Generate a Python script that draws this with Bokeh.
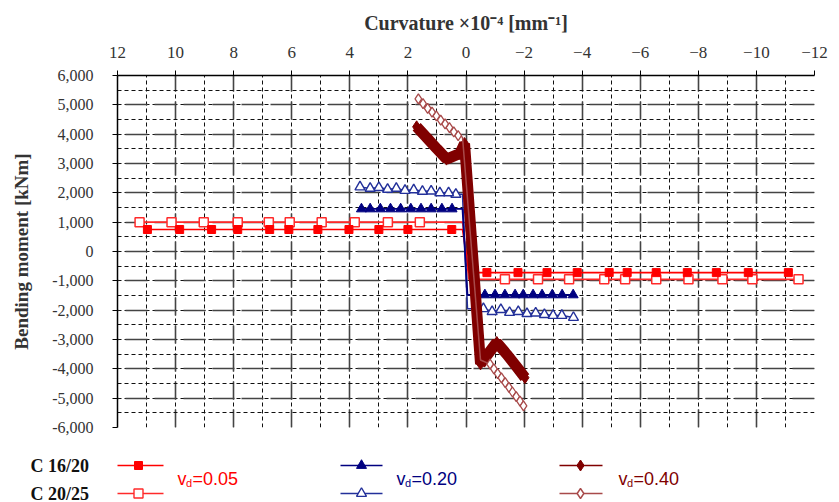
from bokeh.plotting import figure
from bokeh.layouts import column
from bokeh.models import Range1d, FixedTicker, NumeralTickFormatter
from bokeh.embed import file_html
from bokeh.resources import INLINE
from bokeh.core.properties import value

# ---------------- data ----------------
x_tick_values = [12, 10, 8, 6, 4, 2, 0, -2, -4, -6, -8, -10, -12]
x_minor_values = [12, 11, 10, 9, 8, 7, 6, 5, 4, 3, 2, 1, 0, -1, -2, -3, -4, -5, -6,
                  -7, -8, -9, -10, -11, -12]
y_tick_values = [6000, 5000, 4000, 3000, 2000, 1000, 0, -1000, -2000, -3000, -4000,
                 -5000, -6000]
y_minor_values = [6000, 5500, 5000, 4500, 4000, 3500, 3000, 2500, 2000, 1500, 1000, 500,
                  0, -500, -1000, -1500, -2000, -2500, -3000, -3500, -4000, -4500,
                  -5000, -5500, -6000]

# C 16/20, vd = 0.05 (filled squares)
rf_pos_x = [0.49, 2.0, 3.0, 4.03, 5.1, 6.1, 6.76, 7.86, 8.76, 9.86, 10.97]
rf_pos_y = [750, 750, 750, 750, 750, 750, 750, 750, 750, 750, 750]
rf_neg_x = [-0.72, -1.79, -2.79, -3.83, -4.93, -5.55, -6.55, -7.62, -8.62, -9.72, -11.1]
rf_neg_y = [-720, -720, -720, -720, -720, -720, -720, -720, -720, -720, -720]
rf_yield_x = [0.12, -0.1]
rf_yield_y = [750, -720]

# C 20/25, vd = 0.05 (open squares)
ro_pos_x = [1.59, 2.69, 3.83, 4.97, 6.07, 6.79, 7.86, 9.03, 10.14, 11.24]
ro_pos_y = [1000, 1000, 1000, 1000, 1000, 1000, 1000, 1000, 1000, 1000]
ro_neg_x = [-1.34, -2.48, -3.55, -4.76, -5.48, -6.55, -7.66, -8.83, -9.86, -11.45]
ro_neg_y = [-950, -950, -950, -950, -950, -950, -950, -950, -950, -950]
ro_yield_x = [0.12, -0.1]
ro_yield_y = [1000, -950]

# C 16/20, vd = 0.20 (filled triangles)
bf_pos_x = [0.48, 0.83, 1.2, 1.55, 1.9, 2.25, 2.6, 2.95, 3.3, 3.6]
bf_pos_y = [1450, 1450, 1450, 1450, 1450, 1450, 1450, 1450, 1450, 1450]
bf_neg_x = [-0.65, -1.0, -1.34, -1.69, -1.97, -2.31, -2.62, -2.97, -3.31, -3.69]
bf_neg_y = [-1480, -1480, -1480, -1480, -1480, -1480, -1480, -1480, -1480, -1480]
bf_yield_x = [0.12, -0.05]
bf_yield_y = [1450, -1480]

# C 20/25, vd = 0.20 (open triangles)
bo_pos_x = [0.35, 0.6, 0.9, 1.2, 1.5, 1.8, 2.1, 2.4, 2.7, 3.0, 3.3, 3.65]
bo_pos_y = [1950, 2000, 2000, 2060, 2050, 2100, 2080, 2150, 2120, 2180, 2150, 2200]
bo_neg_x = [-0.6, -0.9, -1.2, -1.5, -1.8, -2.1, -2.4, -2.7, -3.0, -3.3, -3.7]
bo_neg_y = [-1950, -2050, -1980, -2080, -2050, -2120, -2100, -2150, -2180, -2180, -2250]
bo_yield_x = [0.12, -0.05]
bo_yield_y = [1950, -1950]

# C 16/20, vd = 0.40 (filled diamonds)
df_pos_x = [0.05, 0.21, 0.67, 1.0, 1.35, 1.70]
df_pos_y = [3680, 3340, 3150, 3500, 3880, 4250]
df_neg_x = [-0.5, -1.06, -1.4, -1.72, -2.03]
df_neg_y = [-3830, -3100, -3500, -3900, -4300]

# C 20/25, vd = 0.40 (open diamonds)
do_pos_x = [0.27, 0.42, 0.57, 0.72, 0.87, 1.02, 1.17, 1.32, 1.48, 1.64]
do_pos_y = [3950, 4080, 4220, 4350, 4480, 4620, 4750, 4880, 5040, 5200]
do_neg_x = [-0.83, -0.96, -1.09, -1.22, -1.35, -1.48, -1.60, -1.73, -1.86, -1.98]
do_neg_y = [-3840, -4000, -4160, -4310, -4470, -4630, -4790, -4950, -5100, -5260]
do_yield_x = [0.12, -0.5]
do_yield_y = [3900, -3700]

legend_rows = ["C 16/20", "C 20/25"]
legend_vd = ["=0.05", "=0.20", "=0.40"]

RED = "#ff0000"
RED_O = "#ff2a2a"
BLUE = "#000080"
BLUE_O = "#23309a"
DRED = "#800000"
DRED_O = "#a84a4a"


def line_path(px, py, nx, ny, yx=None, yy=None):
    xs = list(reversed(px))
    ys = list(reversed(py))
    if yx is not None:
        xs += yx
        ys += yy
    return xs + nx, ys + ny


# ---------------- main figure ----------------
p = figure(width=839, height=440, x_range=Range1d(12, -12), y_range=Range1d(-6000, 6000),
           x_axis_location="above", output_backend="svg", toolbar_location=None,
           min_border_left=117, min_border_right=25, min_border_top=75, min_border_bottom=13,
           background_fill_color="white", border_fill_color="white",
           outline_line_color=None)
p.frame_align = False

p.xaxis.ticker = FixedTicker(ticks=x_tick_values, minor_ticks=x_minor_values)
p.yaxis.ticker = FixedTicker(ticks=y_tick_values, minor_ticks=y_minor_values)
p.yaxis.formatter = NumeralTickFormatter(format="0,0")

p.xaxis.axis_label = "Curvature ×10⁻⁴ [mm⁻¹]"
p.yaxis.axis_label = "Bending moment [kNm]"
for ax in (p.xaxis, p.yaxis):
    ax.axis_label_text_font = "Liberation Serif"
    ax.axis_label_text_font_style = "bold"
    ax.axis_label_text_font_size = "19px"
    ax.axis_label_text_color = "#333333"
    ax.major_label_text_font = "Liberation Serif"
    ax.major_label_text_color = "#333333"
    ax.major_tick_out = 5
    ax.major_tick_in = 0
    ax.major_tick_line_color = "black"
    ax.minor_tick_line_color = None
    ax.axis_line_color = "black"
    ax.axis_line_width = 1.5

p.xaxis.axis_label_text_font_size = "20px"
p.xaxis.major_label_text_font_size = "17px"
p.xaxis.major_label_standoff = 13
p.xaxis.axis_label_standoff = 10
p.yaxis.major_label_text_font_size = "16px"
p.yaxis.major_label_standoff = 19
p.yaxis.axis_label_standoff = 17

p.xgrid.grid_line_color = "#444444"
p.xgrid.grid_line_width = 1.6
p.xgrid.grid_line_dash = "18 10"
p.xgrid.minor_grid_line_color = "#111111"
p.xgrid.minor_grid_line_width = 1
p.xgrid.minor_grid_line_dash = "4 3"
p.ygrid.grid_line_color = "#444444"
p.ygrid.grid_line_width = 1.6
p.ygrid.grid_line_dash = "22 7"
p.ygrid.minor_grid_line_color = "#111111"
p.ygrid.minor_grid_line_width = 1
p.ygrid.minor_grid_line_dash = "4 3"

# vd = 0.05
lx, ly = line_path(ro_pos_x, ro_pos_y, ro_neg_x, ro_neg_y, ro_yield_x, ro_yield_y)
p.line(lx, ly, line_color=RED_O, line_width=1.6)
p.scatter(ro_pos_x + ro_neg_x, ro_pos_y + ro_neg_y, marker="square", size=9,
          line_color=RED_O, fill_color="white", line_width=1.5)
lx, ly = line_path(rf_pos_x, rf_pos_y, rf_neg_x, rf_neg_y, rf_yield_x, rf_yield_y)
p.line(lx, ly, line_color=RED, line_width=1.6)
p.scatter(rf_pos_x + rf_neg_x, rf_pos_y + rf_neg_y, marker="square", size=8,
          line_color=RED, fill_color=RED)

# vd = 0.20
lx, ly = line_path(bo_pos_x, bo_pos_y, bo_neg_x, bo_neg_y, bo_yield_x, bo_yield_y)
p.line(lx, ly, line_color=BLUE_O, line_width=1.6)
p.scatter(bo_pos_x + bo_neg_x, bo_pos_y + bo_neg_y, marker="triangle", size=10,
          line_color=BLUE_O, fill_color="white", line_width=1.4)
lx, ly = line_path(bf_pos_x, bf_pos_y, bf_neg_x, bf_neg_y, bf_yield_x, bf_yield_y)
p.line(lx, ly, line_color=BLUE, line_width=1.8)
p.scatter(bf_pos_x + bf_neg_x, bf_pos_y + bf_neg_y, marker="triangle", size=10,
          line_color=BLUE, fill_color=BLUE)

# vd = 0.40
lx, ly = line_path(df_pos_x, df_pos_y, df_neg_x, df_neg_y)
p.line(lx, ly, line_color=DRED, line_width=11)
p.scatter(df_pos_x + df_neg_x, df_pos_y + df_neg_y, marker="diamond", size=12,
          line_color=DRED, fill_color=DRED)
lx, ly = line_path(do_pos_x, do_pos_y, do_neg_x, do_neg_y, do_yield_x, do_yield_y)
p.line(lx, ly, line_color=DRED_O, line_width=1.5)
p.scatter(do_pos_x + do_neg_x, do_pos_y + do_neg_y, marker="diamond", size=10,
          line_color=DRED_O, fill_color="white", line_width=1.3)

# ---------------- legend strip ----------------
q = figure(width=839, height=62, x_range=Range1d(0, 839), y_range=Range1d(62, 0),
           x_axis_type=None, y_axis_type=None, output_backend="svg",
           toolbar_location=None, min_border=0, outline_line_color=None,
           background_fill_color="white", border_fill_color="white")
q.frame_align = False
q.grid.visible = False

row_y = [25, 53]
q.text(x=[30, 30], y=row_y, text=legend_rows, text_font=value("Liberation Serif"),
       text_font_style="bold", text_font_size="18px", text_color="#111111",
       text_baseline="middle", text_align="left")

groups = [
    (117, 163, 138, 177, RED, RED_O, "square", 8, 9),
    (340, 382, 361, 396, BLUE, BLUE_O, "triangle", 10, 10),
    (559, 602, 580, 618, DRED, DRED_O, "diamond", 11, 10),
]
for (x0, x1, xm, xl, cf, co, mk, sf, so), lab in zip(groups, legend_vd):
    q.line([x0, x1], [row_y[0], row_y[0]], line_color=cf, line_width=1.6)
    q.scatter([xm], [row_y[0]], marker=mk, size=sf, line_color=cf, fill_color=cf)
    q.line([x0, x1], [row_y[1], row_y[1]], line_color=co, line_width=1.6)
    q.scatter([xm], [row_y[1]], marker=mk, size=so, line_color=co, fill_color="white",
              line_width=1.4)
    q.text(x=[xl], y=[38], text=["v"], text_font=value("Liberation Sans"),
           text_font_size="18px", text_color=cf, text_baseline="middle")
    q.text(x=[xl + 8.5], y=[42], text=["d"], text_font=value("Liberation Sans"),
           text_font_size="11px", text_color=cf, text_baseline="middle")
    q.text(x=[xl + 15], y=[38], text=[lab], text_font=value("Liberation Sans"),
           text_font_size="18px", text_color=cf, text_baseline="middle")

layout = column(p, q)
open("out.html", "w").write(file_html(layout, INLINE, title="Moment-curvature"))
